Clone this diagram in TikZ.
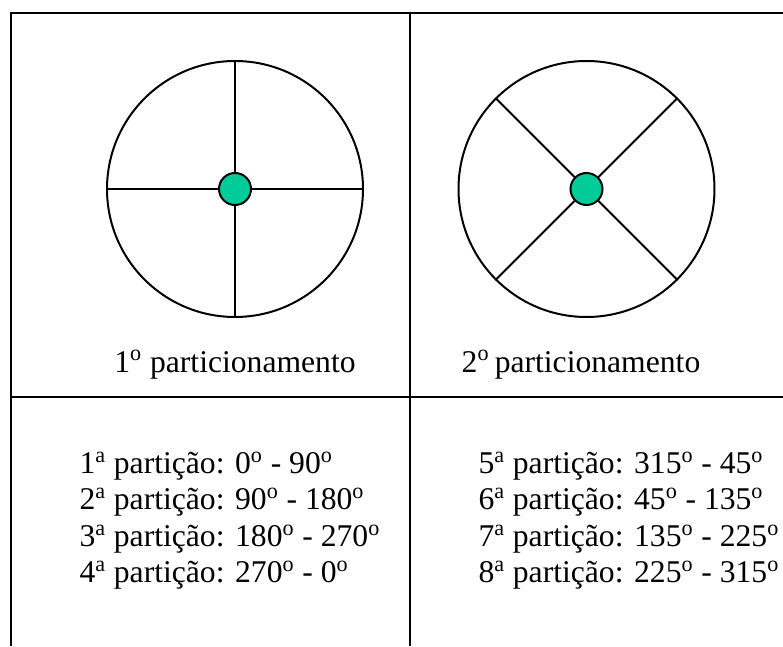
\documentclass[tikz,border=0pt]{standalone}
\usepackage{fontspec}
\setmainfont{Liberation Serif}
\usepackage{xcolor}
\definecolor{hubgreen}{HTML}{00CC99}
\newcommand{\sord}[1]{\textsuperscript{#1}}

\begin{document}
\begin{tikzpicture}[line width=0.04cm,
  wheel/.style={draw,circle,minimum size=5.12cm,inner sep=0pt},
  hub/.style={draw,circle,fill=hubgreen,minimum size=0.64cm,inner sep=0pt},
  caption/.style={font=\fontsize{18}{20.8}\selectfont,inner sep=0pt,anchor=base},
  ranges/.style={font=\fontsize{18}{20.8}\selectfont,inner sep=0pt,align=left,anchor=base west}]
\useasboundingbox (0,0) rectangle (15.66,12.92);
% table lines
\draw (0.22,0) -- (0.22,12.66) -- (15.66,12.66);
\draw (8.2,0) -- (8.2,12.66);
\draw (0.22,4.98) -- (15.66,4.98);
% first partitioning
\node[wheel] (w1) at (4.70,9.14) {};
\draw (w1.north) -- (w1.south);
\draw (w1.west) -- (w1.east);
\node[hub] (h1) at (w1.center) {};
% second partitioning
\node[wheel] (w2) at (11.73,9.14) {};
\draw (w2.45) -- (w2.225);
\draw (w2.135) -- (w2.315);
\node[hub] (h2) at (w2.center) {};
% captions
\node[caption] (t1) at (4.70,5.48) {1\sord{o} particionamento};
\node[caption] (t2) at (11.62,5.48) {2\sord{o}\,particionamento};
% partition lists (anchored on the last line)
\node[ranges] (l1) at (1.57,1.26) {1\sord{a} partição: 0\sord{o} - 90\sord{o}\\
2\sord{a} partição: 90\sord{o} - 180\sord{o}\\
3\sord{a} partição: 180\sord{o} - 270\sord{o}\\
4\sord{a} partição: 270\sord{o} - 0\sord{o}};
\node[ranges] (l2) at (9.55,1.26) {5\sord{a} partição: 315\sord{o} - 45\sord{o}\\
6\sord{a} partição: 45\sord{o} - 135\sord{o}\\
7\sord{a} partição: 135\sord{o} - 225\sord{o}\\
8\sord{a} partição: 225\sord{o} - 315\sord{o}};
\end{tikzpicture}
\end{document}
